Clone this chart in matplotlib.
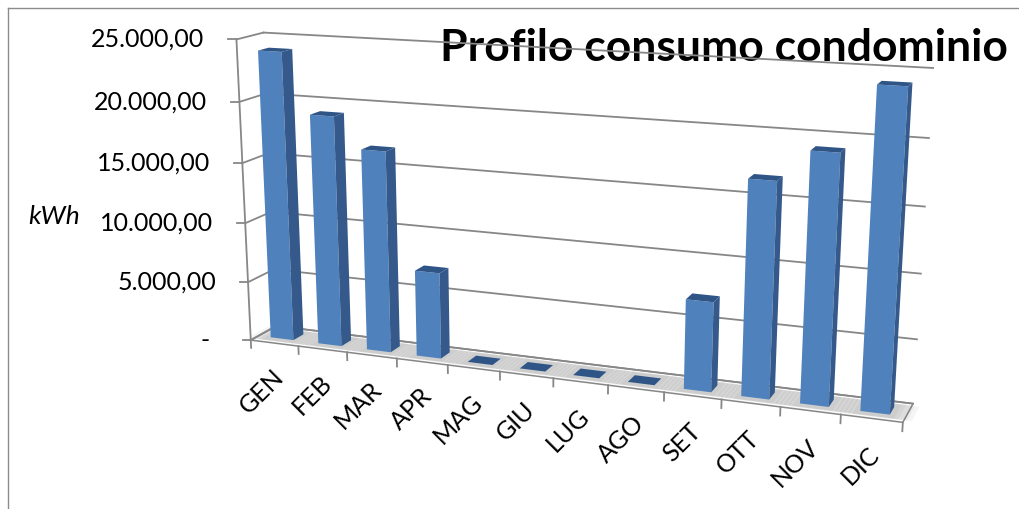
import matplotlib
matplotlib.use("Agg")
import matplotlib.pyplot as plt
from matplotlib.patches import Polygon
import numpy as np

# monthly consumption of the building
months = ["GEN", "FEB", "MAR", "APR", "MAG", "GIU", "LUG", "AGO", "SET", "OTT", "NOV", "DIC"]
consumption = [24000, 19100, 16600, 7100, 0, 0, 0, 0, 7100, 16700, 19100, 24100]
value_ticks = [0, 5000, 10000, 15000, 20000, 25000]
value_max = 25000

W, H = 1019, 509

# plot box in 3D (u across months, v value fraction, w depth) -> pixel position
BOX_CORNERS = [
    ((0, 0, 0), (252, 339)),
    ((0, 1, 0), (235, 40)),
    ((0, 1, 1), (265, 32)),
    ((0, 0, 1), (275, 327)),
    ((1, 1, 1), (933, 68)),
    ((1, 0, 1), (913, 403)),
    ((1, 0, 0), (903, 423)),
]

FRONT = "#4f81bd"
SIDE = "#34598a"
TOP = "#2f5587"
GRID = "#878787"


def fit_camera(pairs):
    rows = []
    for (X, Y, Z), (x, y) in pairs:
        x, y = x / 1000.0, y / 1000.0
        p = [X, Y, Z, 1.0]
        rows.append(p + [0, 0, 0, 0] + [-x * c for c in p])
        rows.append([0, 0, 0, 0] + p + [-y * c for c in p])
    _, _, vt = np.linalg.svd(np.array(rows, dtype=float))
    return vt[-1].reshape(3, 4)


CAM = fit_camera(BOX_CORNERS)


def project(u, v, w):
    h = CAM @ np.array([u, v, w, 1.0])
    return h[0] / h[2] * 1000.0, h[1] / h[2] * 1000.0


def quad(pts, **kw):
    return Polygon([project(*p) for p in pts], closed=True, **kw)


def fmt_value(v):
    if v == 0:
        return "-"
    s = f"{v:,.2f}"
    return s.replace(",", "X").replace(".", ",").replace("X", ".")


plt.rcParams["font.family"] = ["Lato", "DejaVu Sans"]

fig = plt.figure(figsize=(W / 100, H / 100), dpi=100)
ax = fig.add_axes([0, 0, 1, 1])
ax.set_xlim(0, W)
ax.set_ylim(H, 0)
ax.axis("off")

# outer frame
ax.plot([8, W], [8, 8], color="#8c8c8c", lw=1.0, zorder=0)
ax.plot([8, 8], [8, H], color="#8c8c8c", lw=1.0, zorder=0)

# title sits under the gridlines
ax.text(440, 61, "Profilo consumo condominio", fontsize=32, fontweight="bold",
        ha="left", va="baseline", color="black", zorder=1)

# floor
ax.add_patch(quad([(0, 0, 0), (1, 0, 0), (1, 0, 1), (0, 0, 1)],
                  facecolor="#fafafa", edgecolor=GRID, lw=1.1, zorder=2))

n = len(months)
slot = 1.0 / n
half = 0.24 * slot
w0, w1 = 0.3, 0.7

# soft shadows round each column foot
for i in range(n):
    uc = (i + 0.5) * slot
    for k in range(5):
        grow = half * (0.4 + 0.3 * k)
        ax.add_patch(quad([(uc - half - grow, 0, 0.12), (uc + half + grow, 0, 0.12),
                           (uc + half + grow, 0, 0.88), (uc - half - grow, 0, 0.88)],
                          facecolor="#404040", edgecolor="none", alpha=0.05, zorder=2.1))

# gridlines on back and side wall, ticks on the front axis
for t in value_ticks:
    v = t / value_max
    xs, ys = zip(project(0, v, 1), project(1, v, 1))
    ax.plot(xs, ys, color=GRID, lw=1.3, zorder=2.5)
    xs, ys = zip(project(0, v, 0), project(0, v, 1))
    ax.plot(xs, ys, color=GRID, lw=1.3, zorder=2.5)
    fx, fy = project(0, v, 0)
    ax.plot([fx - 8, fx], [fy, fy], color=GRID, lw=1.3, zorder=2.5)
    pad = 41 if t == 0 else 32
    ax.text(fx - pad, fy, fmt_value(t), fontsize=18, ha="right", va="center", zorder=3)

xs, ys = zip(project(0, 0, 0), project(0, 1, 0))
ax.plot(xs, ys, color=GRID, lw=1.3, zorder=2.5)

# category ticks under the floor front edge
for i in range(n + 1):
    xs, ys = zip(project(i * slot, 0, 0), project(i * slot, -0.027, 0))
    ax.plot(xs, ys, color=GRID, lw=1.3, zorder=2.5)

# columns
for i, val in enumerate(consumption):
    uc = (i + 0.5) * slot
    v = val / value_max
    a, b = uc - half, uc + half
    if v > 0:
        ax.add_patch(quad([(a, 0, w0), (b, 0, w0), (b, v, w0), (a, v, w0)],
                          facecolor=FRONT, edgecolor="none", zorder=4))
        ax.add_patch(quad([(b, 0, w0), (b, 0, w1), (b, v, w1), (b, v, w0)],
                          facecolor=SIDE, edgecolor="none", zorder=4))
    ax.add_patch(quad([(a, v, w0), (b, v, w0), (b, v, w1), (a, v, w1)],
                      facecolor=TOP, edgecolor="none", zorder=4))

    lx, ly = project(uc, -0.075, 0)
    ax.text(lx - 3, ly, months[i], fontsize=18, rotation=45, rotation_mode="anchor",
            ha="right", va="top", zorder=3)

ax.text(28, 216, "kWh", fontsize=19, style="italic", ha="left", va="center", zorder=3)

fig.savefig("out.png", dpi=100)
